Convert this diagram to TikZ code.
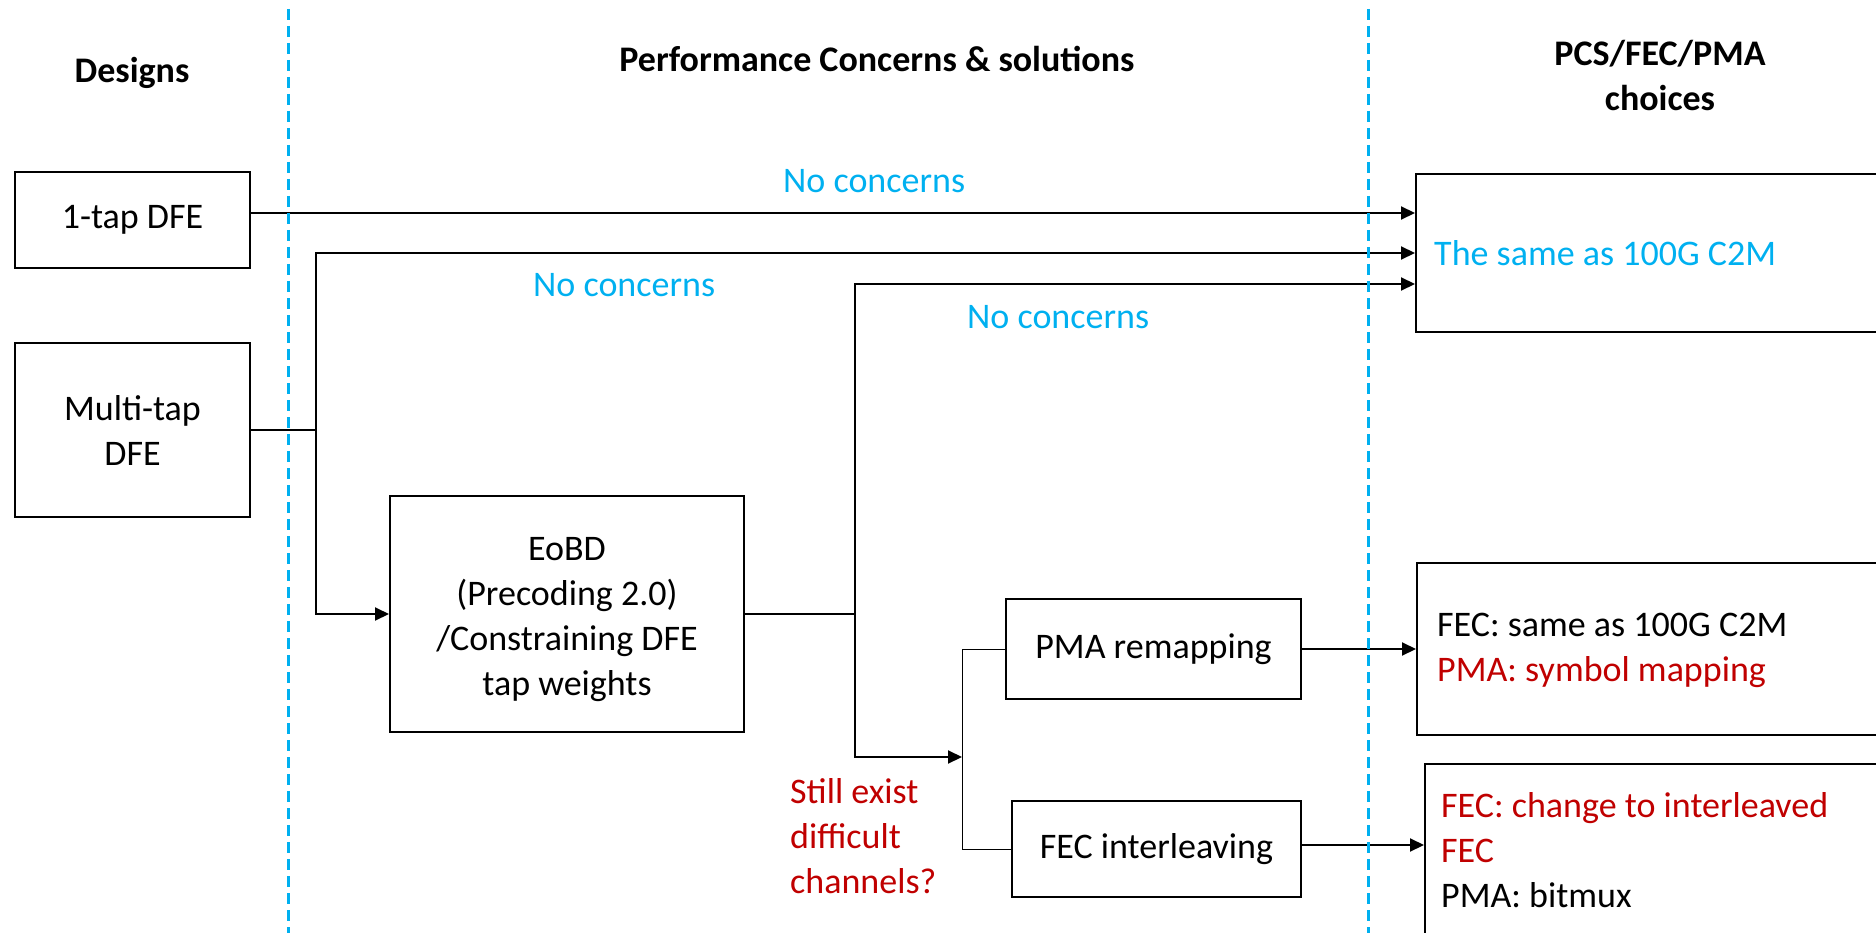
\documentclass[tikz,border=0pt]{standalone}
\usepackage{fontspec}
\setmainfont{Carlito}
\usetikzlibrary{arrows.meta}
\definecolor{skyblue}{HTML}{00B0F0}
\definecolor{darkred}{HTML}{C00000}
\begin{document}
\begin{tikzpicture}[x=1pt,y=-1pt,
  txt/.style={font=\fontsize{36}{45}\selectfont, inner sep=0pt},
  box/.style={draw, line width=2pt, font=\fontsize{36}{45}\selectfont, align=center, inner sep=0pt},
  arr/.style={line width=2pt, -{Triangle[length=14pt,width=13pt]}},
  ln/.style={line width=2pt},
  thinln/.style={line width=1pt},
  divider/.style={draw=skyblue, line width=3pt, dash pattern=on 11pt off 6pt},
  head/.style={font=\bfseries\fontsize{36}{45}\selectfont, inner sep=0pt, align=center}
]
\useasboundingbox (0,0) rectangle (1876,933);
\clip (0,0) rectangle (1876,933);

% headers
\node[head, anchor=base] (h1) at (132,83) {Designs};
\node[head, anchor=base] (h2) at (877,72) {Performance Concerns \& solutions};
\node[head] (h3) at (1660,76) {PCS/FEC/PMA\\choices};

% boxes
\node[box, minimum width=235pt, minimum height=96pt] (A) at (132.5,220) {1-tap DFE};
\node[box, minimum width=235pt, minimum height=174pt] (B) at (132.5,430) {Multi-tap\\DFE};
\node[box, minimum width=354pt, minimum height=236pt] (C) at (567,614) {\rule{0pt}{34pt}EoBD\\(Precoding 2.0)\\/Constraining DFE\\tap weights};
\node[box, minimum width=295pt, minimum height=100pt] (D) at (1153.5,649) {PMA remapping};
\node[box, minimum width=289pt, minimum height=96pt] (E) at (1156.5,849) {FEC interleaving};
\node[box, minimum width=474pt, minimum height=158pt] (F) at (1653,253) {};
\node[box, minimum width=473pt, minimum height=172pt] (G) at (1653.5,649) {};
\node[box, minimum width=465pt, minimum height=196pt] (H) at (1657.5,862) {};

% box texts
\node[txt, text=skyblue, anchor=base west] (ft) at (1434,266) {The same as 100G C2M};
\node[txt, align=left, anchor=west] (gt) at (1437,650) {FEC: same as 100G C2M\\\textcolor{darkred}{PMA: symbol mapping}};
\node[txt, align=left, anchor=west] (ht) at (1441,850) {\textcolor{darkred}{FEC: change to interleaved}\\\textcolor{darkred}{FEC}\\PMA: bitmux};

% labels
\node[txt, text=skyblue, anchor=base west] (nc1) at (783,193) {No concerns};
\node[txt, text=skyblue, anchor=base west] (nc2) at (533,296) {No concerns};
\node[txt, text=skyblue, anchor=base west] (nc3) at (967,328) {No concerns};
\node[txt, text=darkred, align=left, anchor=west] (q) at (790,836) {Still exist\\difficult\\channels?};

% connectors
\coordinate (a1) at ([yshift=7pt]A.east);
\draw[arr] (a1) -- (a1 -| F.west);

\coordinate (j1) at (316,430);
\draw[ln] (B.east) -- (j1);
\draw[arr] (j1) |- (F.west);
\draw[arr] (j1) |- (C.west);

\coordinate (j2) at (855,614);
\coordinate (f3) at ([yshift=-31pt]F.west);
\draw[ln] (C.east) -- (j2);
\draw[arr] (j2) |- (f3);
\coordinate (j3) at (962,757);
\draw[arr] (j2) |- (j3);
\draw[thinln] (D.west) -| (j3) |- (E.west);

\draw[arr] (D.east) -- (G.west);
\coordinate (e1) at ([yshift=4pt]E.east);
\draw[arr] (e1) -- (e1 -| H.west);

% dividers
\draw[divider] (288,9) -- (288,933);
\draw[divider] (1368,9) -- (1368,933);
\end{tikzpicture}
\end{document}
